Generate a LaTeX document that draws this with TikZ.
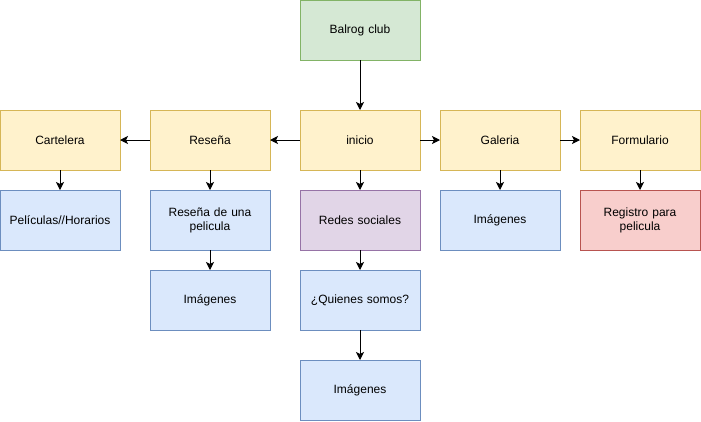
\documentclass[tikz,border=0pt]{standalone}
\usepackage{fontspec}
\setmainfont{Liberation Sans}
\usetikzlibrary{positioning,arrows,arrows.meta}
\definecolor{GreenFill}{HTML}{d5e8d4}
\definecolor{GreenLine}{HTML}{82b366}
\definecolor{YellowFill}{HTML}{fff2cc}
\definecolor{YellowLine}{HTML}{d6b656}
\definecolor{BlueFill}{HTML}{dae8fc}
\definecolor{BlueLine}{HTML}{6c8ebf}
\definecolor{PurpleFill}{HTML}{e1d5e7}
\definecolor{PurpleLine}{HTML}{9673a6}
\definecolor{RedFill}{HTML}{f8cecc}
\definecolor{RedLine}{HTML}{b85450}
\tikzset{
    block/.style = {draw, rectangle, line width=1pt,
        minimum height=60pt,
        minimum width=120pt, text width=116pt, align=center,
        font=\fontsize{12}{14}\selectfont, inner sep=0pt, outer sep=0pt},
    greenblock/.style = {block, fill=GreenFill, draw=GreenLine},
    yellowblock/.style = {block, fill=YellowFill, draw=YellowLine},
    blueblock/.style = {block, fill=BlueFill, draw=BlueLine},
    purpleblock/.style = {block, fill=PurpleFill, draw=PurpleLine},
    redblock/.style = {block, fill=RedFill, draw=RedLine},
    arrow/.style={draw, ->, line width=1pt}
}

\begin{document}
\begin{tikzpicture}[auto, node distance=20pt, >={Stealth[length=8pt,width=8pt,inset=2pt]}]
            \useasboundingbox (0,0) rectangle (701pt,-421pt);
            \node [greenblock] at (360pt,-30pt) (club) {Balrog club};
            \node [yellowblock, below=50pt of club] (inicio) {inicio};
            \node [yellowblock, left=30pt of inicio] (resena) {Reseña};
            \node [yellowblock, left=30pt of resena] (cartelera) {Cartelera};
            \node [yellowblock, right=of inicio] (galeria) {Galeria};
            \node [yellowblock, right=of galeria] (formulario) {Formulario};
            \node [blueblock, below=of cartelera] (horarios) {Películas//Horarios};
            \node [blueblock, below=of resena] (unaresena) {Reseña de una\\pelicula};
            \node [blueblock, below=of unaresena] (resenaimg) {Imágenes};
            \node [purpleblock, below=of inicio] (redes) {Redes sociales};
            \node [blueblock, below=of redes] (quienes) {¿Quienes somos?};
            \node [blueblock, below=30pt of quienes] (quienesimg) {Imágenes};
            \node [blueblock, below=of galeria] (galeriaimg) {Imágenes};
            \node [redblock, below=of formulario] (registro) {Registro para\\pelicula};
            % connectors
            \draw [arrow] (club) -- (inicio);
            \draw [arrow] (inicio) -- (resena);
            \draw [arrow] (resena) -- (cartelera);
            \draw [arrow] (inicio) -- (galeria);
            \draw [arrow] (galeria) -- (formulario);
            \draw [arrow] (cartelera) -- (horarios);
            \draw [arrow] (resena) -- (unaresena);
            \draw [arrow] (unaresena) -- (resenaimg);
            \draw [arrow] (inicio) -- (redes);
            \draw [arrow] (redes) -- (quienes);
            \draw [arrow] (quienes) -- (quienesimg);
            \draw [arrow] (galeria) -- (galeriaimg);
            \draw [arrow] (formulario) -- (registro);
\end{tikzpicture}
\end{document}
